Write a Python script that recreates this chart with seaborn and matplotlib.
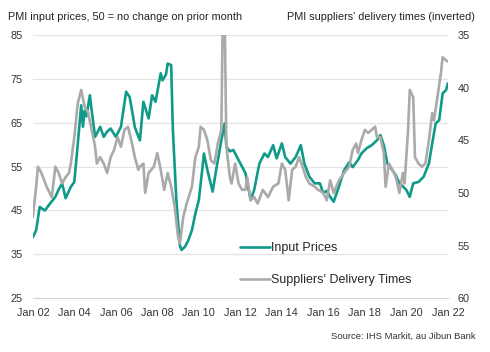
import matplotlib
matplotlib.use("Agg")
import matplotlib.pyplot as plt
import matplotlib.dates as mdates
import seaborn as sns
import pandas as pd

# Months counted from Jan 2002
price_months = [0, 2, 4, 7, 10, 13, 15, 17, 19, 22, 24, 26, 28, 29, 30, 31, 33, 34, 36, 39, 41, 43, 45,
                48, 51, 54, 56, 58, 59, 62, 64, 67, 69, 71, 74, 75, 77, 78, 80, 81, 83, 85, 86, 88, 90,
                92, 94, 96, 98, 99, 101, 104, 106, 109, 111, 112, 114, 116, 119, 121, 123, 126, 128, 131,
                134, 136, 139, 141, 144, 146, 149, 152, 155, 157, 160, 163, 166, 168, 170, 172, 174,
                177, 180, 183, 185, 188, 190, 193, 196, 199, 201, 203, 205, 208, 210, 212, 214, 216,
                218, 220, 223, 226, 229, 231, 233, 235, 237, 239, 240]
price_values = [38.9, 40.5, 45.8, 45.0, 46.6, 48.1, 49.8, 51.2, 47.8, 50.4, 51.5, 60.0, 69.0, 64.1, 67.8,
                66.5, 71.3, 67.9, 61.8, 64.1, 61.8, 63.0, 63.7, 61.8, 64.1, 72.1, 70.9, 66.4, 64.0, 61.0,
                69.8, 66.0, 71.3, 69.8, 76.3, 74.7, 76.0, 78.5, 78.2, 63.3, 47.4, 37.0, 36.0, 36.7, 38.2,
                40.5, 44.3, 47.4, 54.2, 58.0, 54.2, 49.3, 54.2, 61.0, 64.9, 59.5, 58.5, 58.8, 56.5, 55.0,
                53.5, 47.4, 49.7, 55.7, 58.0, 57.2, 59.9, 56.9, 60.3, 57.2, 55.7, 57.2, 59.9, 55.7, 52.7,
                51.2, 51.2, 48.9, 49.5, 48.1, 47.0, 50.4, 54.2, 56.0, 54.9, 56.5, 58.0, 59.2, 59.9, 61.0,
                62.2, 59.9, 55.7, 54.2, 53.0, 51.2, 50.5, 49.7, 48.1, 51.2, 51.5, 52.7, 55.7, 60.3, 64.9,
                65.6, 71.7, 72.5, 74.0]

delivery_months = [0, 2, 3, 5, 8, 11, 13, 15, 17, 19, 21, 22, 24, 26, 28, 30, 32, 34, 36, 37, 39, 41,
                   43, 45, 47, 49, 51, 53, 55, 57, 59, 61, 62, 64, 65, 67, 70, 72, 74, 76, 78, 80, 82,
                   84, 85, 87, 89, 92, 94, 96, 97, 99, 101, 103, 105, 107, 109, 110, 111, 112, 114, 115,
                   117, 119, 121, 123, 124, 126, 128, 130, 133, 136, 139, 142, 144, 146, 148, 150, 152,
                   154, 156, 158, 160, 163, 165, 168, 170, 172, 174, 177, 180, 183, 185, 187, 188, 190,
                   192, 194, 196, 198, 199, 201, 203, 204, 206, 208, 210, 212, 214, 215, 217, 218, 220,
                   221, 223, 225, 227, 229, 231, 232, 234, 236, 237, 239, 240]
delivery_values = [52.3, 49.4, 47.5, 48.1, 49.4, 50.4, 47.5, 48.1, 49.1, 48.5, 48.1, 47.2, 44.7, 41.5,
                   40.2, 41.8, 42.4, 44.0, 45.6, 47.2, 46.6, 47.2, 48.1, 46.6, 45.9, 44.7, 45.6, 44.0,
                   43.7, 45.0, 46.6, 47.8, 47.5, 47.2, 50.0, 48.1, 47.5, 46.2, 47.8, 49.7, 48.1, 49.4,
                   51.3, 54.2, 54.8, 52.3, 51.0, 49.4, 46.6, 45.6, 43.7, 44.0, 45.0, 46.9, 47.2, 45.3,
                   44.0, 32.0, 33.5, 45.6, 48.5, 49.1, 47.2, 49.1, 49.7, 49.7, 48.5, 50.7, 50.4, 51.0,
                   49.7, 50.4, 49.4, 49.1, 47.2, 47.8, 50.7, 47.8, 47.5, 46.6, 47.5, 48.5, 49.1, 49.4,
                   49.7, 50.0, 50.7, 48.8, 50.0, 48.8, 48.1, 47.5, 45.9, 45.3, 46.2, 45.0, 44.0, 44.3,
                   44.0, 43.7, 44.7, 44.7, 46.2, 49.4, 47.2, 47.8, 48.5, 50.0, 48.1, 49.1, 44.0, 40.2,
                   40.9, 46.6, 47.2, 47.5, 47.2, 45.0, 42.4, 43.1, 40.9, 38.6, 37.1, 37.4, 37.5]

price_ticks = [25, 35, 45, 55, 65, 75, 85]
delivery_ticks = [35, 40, 45, 50, 55, 60]
TEAL = "#0f9a89"
GREY = "#aaaaaa"


def to_dates(months):
    return [pd.Timestamp(2002 + m // 12, m % 12 + 1, 1) for m in months]


df_price = pd.DataFrame({"date": to_dates(price_months), "value": price_values})
df_deliv = pd.DataFrame({"date": to_dates(delivery_months), "value": delivery_values})

sns.set_style("white")
plt.rcParams["font.family"] = ["Liberation Sans", "DejaVu Sans"]

fig, ax = plt.subplots(figsize=(4.9, 3.52), dpi=100)
fig.subplots_adjust(left=0.067, right=0.914, top=0.900, bottom=0.153)
ax2 = ax.twinx()

sns.lineplot(data=df_price, x="date", y="value", ax=ax, color=TEAL, linewidth=1.9,
             label="Input Prices", legend=False)
sns.lineplot(data=df_deliv, x="date", y="value", ax=ax2, color=GREY, linewidth=1.9,
             label="Suppliers' Delivery Times", legend=False)

ax.set_ylim(25, 85)
ax.set_yticks(price_ticks)
ax2.set_ylim(60, 35)
ax2.set_yticks(delivery_ticks)
ax.set_xlim(pd.Timestamp(2002, 1, 1), pd.Timestamp(2022, 1, 1))
ax.xaxis.set_major_locator(mdates.YearLocator(2, month=1, day=1))
ax.xaxis.set_major_formatter(mdates.DateFormatter("Jan %y"))

ax.grid(axis="y", color="#e4e4e4", linewidth=0.9)
ax.set_axisbelow(True)
for a in (ax, ax2):
    a.set_xlabel("")
    a.set_ylabel("")
    for s in a.spines.values():
        s.set_visible(False)
    a.tick_params(length=0, labelsize=7.8, colors="#333333", pad=7)
ax.spines["bottom"].set_visible(True)
ax.spines["bottom"].set_color("#d4d4d4")
ax.tick_params(axis="x", pad=7)

fig.text(0.016, 0.953, "PMI input prices, 50 = no change on prior month", fontsize=7.8,
         color="#222222", ha="left", va="center")
fig.text(0.97, 0.953, "PMI suppliers' delivery times (inverted)", fontsize=7.8,
         color="#222222", ha="right", va="center")
fig.text(0.97, 0.045, "Source: IHS Markit, au Jibun Bank", fontsize=6.8,
         color="#333333", ha="right", va="center")

h1, l1 = ax.get_legend_handles_labels()
h2, l2 = ax2.get_legend_handles_labels()
ax2.legend(h1 + h2, l1 + l2, loc="upper left", bbox_to_anchor=(0.49, 0.312),
           bbox_transform=fig.transFigure, frameon=False, fontsize=9,
           handlelength=2.4, handletextpad=0.1, labelspacing=1.6, borderpad=0,
           borderaxespad=0)

fig.savefig("out.png", dpi=100)
